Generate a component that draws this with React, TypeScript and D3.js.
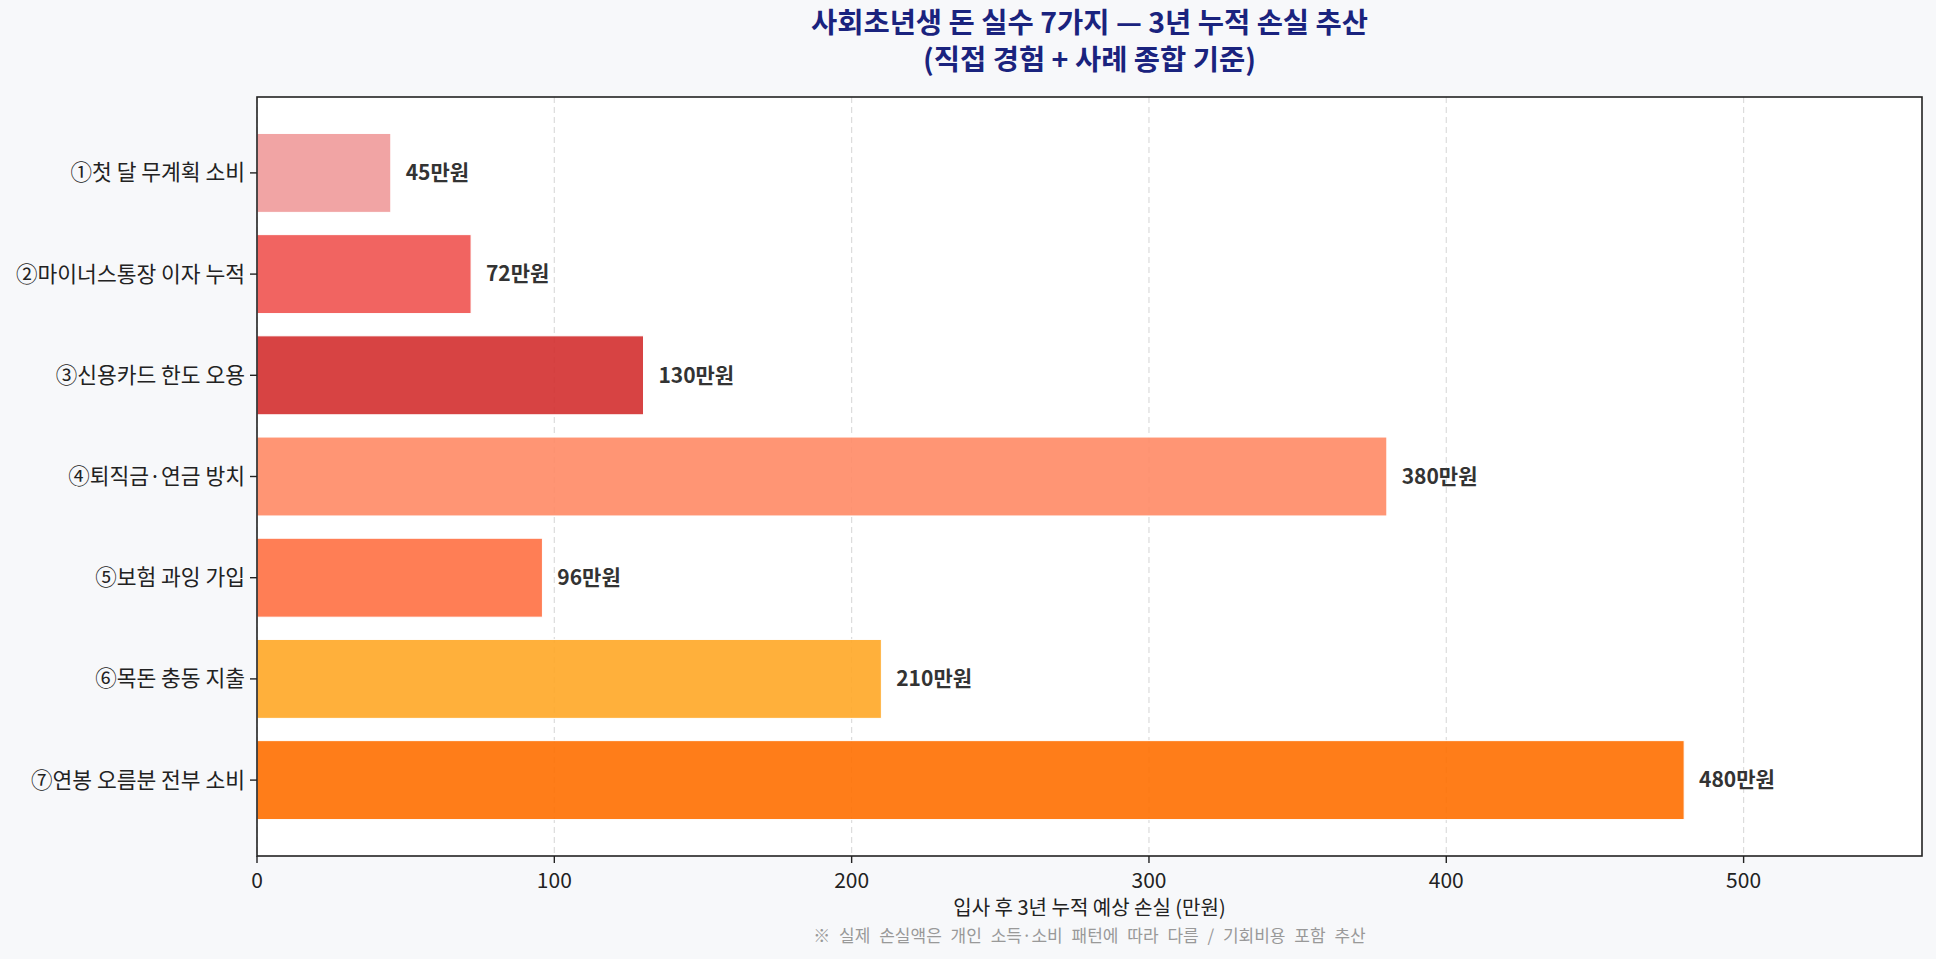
import React from "react";
import * as d3 from "d3";

const W = 1936;
const H = 959;

const categories = [
  "①첫 달 무계획 소비",
  "②마이너스통장 이자 누적",
  "③신용카드 한도 오용",
  "④퇴직금·연금 방치",
  "⑤보험 과잉 가입",
  "⑥목돈 충동 지출",
  "⑦연봉 오름분 전부 소비",
];
const losses = [45, 72, 130, 380, 96, 210, 480];
const barColors = ["#EF9A9A", "#EF5350", "#D32F2F", "#FF8A65", "#FF7043", "#FFA726", "#FF6F00"];
const xTicks = [0, 100, 200, 300, 400, 500];

const titleLines = ["사회초년생 돈 실수 7가지 — 3년 누적 손실 추산", "(직접 경험 + 사례 종합 기준)"];
const xLabel = "입사 후 3년 누적 예상 손실 (만원)";
const footnote = "※ 실제 손실액은 개인 소득·소비 패턴에 따라 다름 / 기회비용 포함 추산";

const margin = { left: 257, right: 14, top: 97, bottom: 103 };
const font = "'Noto Sans CJK KR', 'Noto Sans', sans-serif";

export default function App() {
  const x = d3
    .scaleLinear()
    .domain([0, 560])
    .range([margin.left, W - margin.right]);

  // first category at the top, half-band padding like matplotlib
  const y = d3
    .scaleLinear()
    .domain([-0.75, categories.length - 0.25])
    .range([margin.top, H - margin.bottom]);

  const barH = y(0.39) - y(0);
  const plotW = W - margin.right - margin.left;
  const plotBottom = H - margin.bottom;
  const cx = margin.left + plotW / 2;

  return (
    <svg
      width={W}
      height={H}
      style={{ position: "fixed", left: 0, top: 0, fontFamily: font }}
    >
      <rect width={W} height={H} fill="#f7f8fa" />
      <rect x={margin.left} y={margin.top} width={plotW} height={plotBottom - margin.top} fill="#ffffff" />

      {/* grid */}
      {xTicks.map(t => (
        <line
          key={"g" + t}
          x1={x(t)}
          x2={x(t)}
          y1={margin.top}
          y2={plotBottom}
          stroke="#dcdcdc"
          strokeWidth={1.2}
          strokeDasharray="6,4"
        />
      ))}

      {/* bars */}
      {losses.map((v, i) => (
        <rect
          key={categories[i]}
          x={x(0)}
          y={y(i) - barH}
          width={x(v) - x(0)}
          height={barH * 2}
          fill={barColors[i]}
          fillOpacity={0.9}
          stroke="#ffffff"
          strokeWidth={1}
        />
      ))}

      {/* value labels */}
      {losses.map((v, i) => (
        <text
          key={"v" + i}
          x={x(v + 5)}
          y={y(i)}
          dy="0.35em"
          fontSize={21}
          fontWeight="bold"
          fill="#333333"
        >
          {v}만원
        </text>
      ))}

      {/* frame */}
      <rect
        x={margin.left}
        y={margin.top}
        width={plotW}
        height={plotBottom - margin.top}
        fill="none"
        stroke="#222222"
        strokeWidth={1.6}
      />

      {/* y ticks */}
      {categories.map((c, i) => (
        <g key={"yt" + i} transform={`translate(${margin.left},${y(i)})`}>
          <line x1={-7} x2={0} stroke="#222" strokeWidth={1.4} />
          <text x={-12} dy="0.35em" textAnchor="end" fontSize={21.5} fill="#222">
            {c}
          </text>
        </g>
      ))}

      {/* x ticks */}
      {xTicks.map(t => (
        <g key={"xt" + t} transform={`translate(${x(t)},${plotBottom})`}>
          <line y1={0} y2={7} stroke="#222" strokeWidth={1.4} />
          <text y={25} dy="0.35em" textAnchor="middle" fontSize={21} fill="#222">
            {t}
          </text>
        </g>
      ))}

      <text x={cx} y={908} dy="0.35em" textAnchor="middle" fontSize={20} fill="#222">
        {xLabel}
      </text>
      <text
        x={cx}
        y={936}
        dy="0.35em"
        textAnchor="middle"
        fontSize={17}
        fill="#999999"
        style={{ wordSpacing: "5px" }}
      >
        {footnote}
      </text>

      {titleLines.map((t, i) => (
        <text
          key={"t" + i}
          x={cx}
          y={23 + i * 37}
          dy="0.35em"
          textAnchor="middle"
          fontSize={28.5}
          fontWeight="bold"
          fill="#1a237e"
        >
          {t}
        </text>
      ))}
    </svg>
  );
}
